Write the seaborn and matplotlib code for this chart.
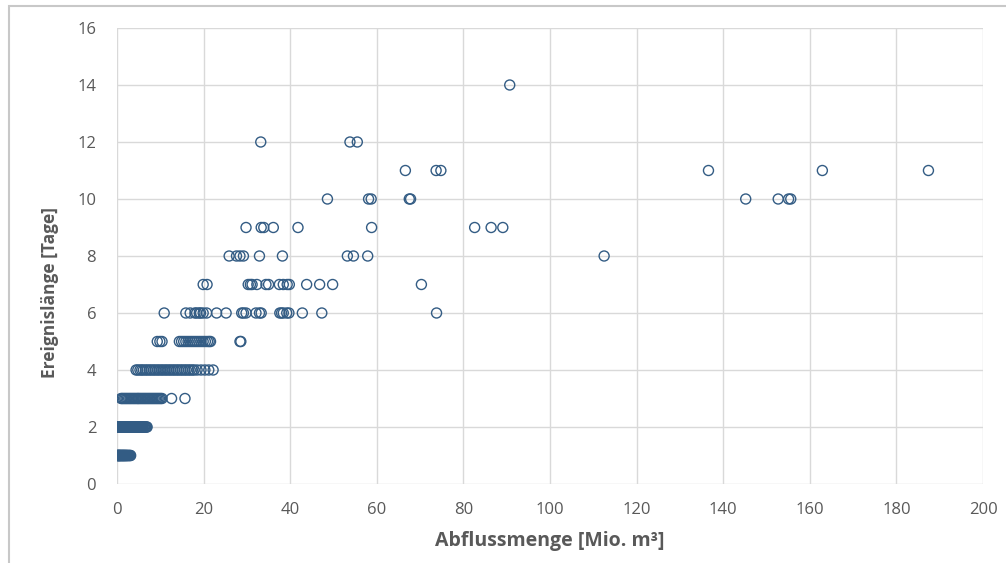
import matplotlib
matplotlib.use("Agg")
import matplotlib.pyplot as plt
import seaborn as sns
import pandas as pd
from matplotlib.patches import Rectangle

# ---- data: discharge volume [Mio. m3] per event, grouped by event length [days]
days_1 = [0.05, 0.12, 0.2, 0.27, 0.35, 0.41, 0.5, 0.58, 0.66, 0.71, 0.83, 0.9, 1.02, 1.1,
          1.19, 1.3, 1.38, 1.45, 1.57, 1.66, 1.74, 1.85, 1.97, 2.06, 2.18, 2.3, 2.41, 2.55,
          2.7, 2.86, 3.05, 3.15]
days_2 = [0.05, 0.1, 0.18, 0.25, 0.31, 0.4, 0.47, 0.55, 0.62, 0.7, 0.78, 0.86, 0.95, 1.05,
          1.13, 1.22, 1.3, 1.41, 1.5, 1.6, 1.7, 1.79, 1.9, 2.0, 2.1, 2.22, 2.35, 2.46, 2.58,
          2.7, 2.83, 2.95, 3.08, 3.2, 3.33, 3.46, 3.6, 3.72, 3.85, 3.98, 4.12, 4.25, 4.4,
          4.53, 4.68, 4.82, 4.96, 5.1, 5.25, 5.4, 5.55, 5.7, 5.85, 6.0, 6.2, 6.4, 6.6, 6.8, 6.95]
days_3 = [0.95, 1.2, 1.5, 1.8, 2.1, 2.4, 2.7, 3.0, 3.3, 3.6, 3.9, 4.2, 4.5, 4.8, 5.0, 5.3,
          5.6, 5.9, 6.2, 6.5, 6.8, 7.1, 7.4, 7.7, 8.0, 8.3, 8.6, 8.9, 9.2, 9.5, 9.8, 10.1,
          10.4, 12.6, 15.7]
days_4 = [4.4, 4.8, 5.3, 5.7, 6.1, 6.6, 7.0, 7.5, 7.9, 8.4, 8.8, 9.3, 9.7, 10.2, 10.6,
          11.1, 11.5, 12.0, 12.4, 12.9, 13.3, 13.8, 14.2, 14.7, 15.1, 15.6, 16.0, 16.5,
          16.9, 17.4, 17.8, 18.5, 19.4, 20.3, 21.2, 22.2]
days_5 = [9.3, 9.9, 10.4, 14.4, 14.9, 15.4, 15.9, 16.4, 16.9, 17.4, 17.9, 18.4, 18.9, 19.4,
          19.9, 20.4, 20.9, 21.3, 21.6, 28.4, 28.6]
days_6 = [10.9, 15.9, 16.9, 18.0, 18.4, 19.0, 19.3, 19.9, 20.7, 23.0, 25.2, 28.8, 29.2, 29.8,
          32.1, 32.9, 33.3, 37.6, 38.0, 38.4, 39.2, 39.7, 42.8, 47.3, 73.8]
days_7 = [19.9, 20.8, 30.3, 30.8, 31.2, 32.3, 34.4, 35.0, 37.5, 38.4, 39.3, 39.8, 43.8,
          46.8, 49.8, 70.3]
days_8 = [25.9, 27.6, 28.4, 29.2, 32.9, 38.2, 53.2, 54.6, 57.9, 112.5]
days_9 = [29.8, 33.3, 33.9, 36.1, 41.8, 58.8, 82.6, 86.4, 89.1]
days_10 = [48.6, 58.1, 58.7, 67.5, 67.8, 145.2, 152.7, 155.1, 155.6]
days_11 = [66.6, 73.7, 74.8, 136.6, 162.9, 187.4]
days_12 = [33.2, 53.8, 55.5]
days_14 = [90.7]

x_ticks = [0, 20, 40, 60, 80, 100, 120, 140, 160, 180, 200]
y_ticks = [0, 2, 4, 6, 8, 10, 12, 14, 16]
x_label = "Abflussmenge [Mio. m³]"
y_label = "Ereignislänge [Tage]"

groups = {1: days_1, 2: days_2, 3: days_3, 4: days_4, 5: days_5, 6: days_6, 7: days_7,
          8: days_8, 9: days_9, 10: days_10, 11: days_11, 12: days_12, 14: days_14}
rows = [(v, d) for d, vals in groups.items() for v in vals]
df = pd.DataFrame(rows, columns=["volume", "days"])

sns.set_theme(style="white")
plt.rcParams["font.family"] = ["Open Sans", "DejaVu Sans"]

fig = plt.figure(figsize=(10.06, 5.63), dpi=100)
ax = fig.add_axes([117 / 1006, 1 - 484 / 563, (983 - 117) / 1006, (484 - 28) / 563])

marker_col = "#335c84"
sns.scatterplot(data=df, x="volume", y="days", ax=ax, marker="o", s=52,
                facecolors="none", edgecolor=marker_col, linewidth=1.0, zorder=3)

ax.set_xlim(0, 200)
ax.set_ylim(0, 16)
ax.set_xticks(x_ticks)
ax.set_yticks(y_ticks)
ax.grid(True, color="#d9d9d9", linewidth=1.0)
ax.set_axisbelow(True)
for s in ax.spines.values():
    s.set_visible(False)
ax.tick_params(axis="both", length=0, labelsize=12, labelcolor="#595959")
ax.tick_params(axis="x", pad=13)
ax.tick_params(axis="y", pad=15)
ax.set_xlabel(x_label, fontsize=14, fontweight="bold", color="#595959")
ax.set_ylabel(y_label, fontsize=12.5, fontweight="bold", color="#595959")
ax.xaxis.set_label_coords(0.5, (484 - 541) / 456, transform=ax.transAxes)
ax.yaxis.set_label_coords((50 - 117) / 866, (484 - 293) / 456, transform=ax.transAxes)
ax.xaxis.label.set_va("center")
ax.yaxis.label.set_va("center")

# outer chart border (light gray)
fig.patches.append(Rectangle((9 / 1006, -0.1), 1.2, 1 - 6 / 563 + 0.1,
                             transform=fig.transFigure, fill=False,
                             edgecolor="#c8c8c8", linewidth=1.5))

fig.savefig("out.png", dpi=100)
